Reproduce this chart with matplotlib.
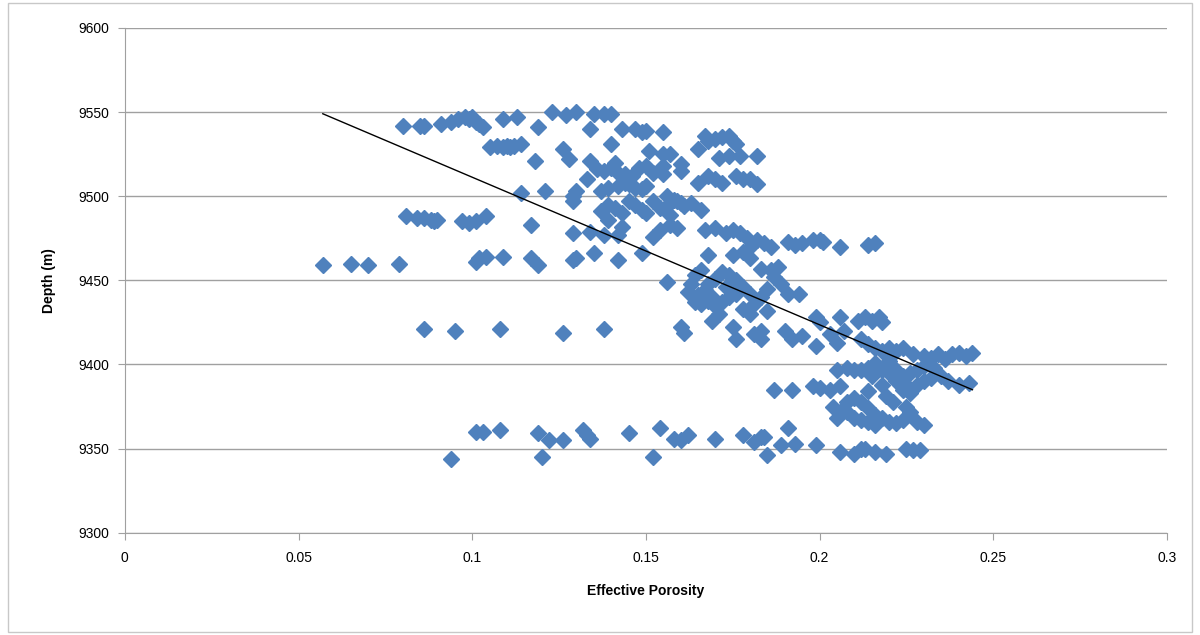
import matplotlib
matplotlib.use("Agg")
import matplotlib.pyplot as plt
from matplotlib.patches import Rectangle
import numpy as np

# Effective porosity (x) and depth (y)
porosity = [
    0.080, 0.085, 0.086, 0.091, 0.094, 0.096, 0.098, 0.099, 0.100, 0.101, 0.102, 0.103,
    0.109, 0.113, 0.119, 0.123, 0.127, 0.130, 0.134, 0.135, 0.138, 0.140,
    0.105, 0.107, 0.109, 0.110, 0.111, 0.112, 0.114, 0.118, 0.126, 0.128, 0.134, 0.140,
    0.143, 0.147, 0.149, 0.150, 0.151, 0.155, 0.155, 0.157, 0.165, 0.167, 0.168, 0.170,
    0.172, 0.174, 0.175, 0.176, 0.171, 0.174, 0.177, 0.182, 0.160,
    0.136, 0.138, 0.140, 0.141, 0.142, 0.144, 0.146, 0.148, 0.150, 0.152, 0.155, 0.155,
    0.160, 0.145, 0.150, 0.133, 0.130, 0.129, 0.137, 0.139, 0.142, 0.144, 0.147, 0.149,
    0.156, 0.158, 0.160, 0.165, 0.168, 0.170, 0.172, 0.176, 0.178, 0.180, 0.182, 0.114, 0.121,
    0.129, 0.137, 0.139, 0.141, 0.143, 0.145, 0.147, 0.149, 0.150, 0.152, 0.154, 0.156,
    0.157, 0.159, 0.161, 0.163, 0.166, 0.117, 0.129, 0.134, 0.138, 0.142, 0.143, 0.152,
    0.154, 0.157, 0.159, 0.139,
    0.081, 0.084, 0.086, 0.088, 0.089, 0.090, 0.097, 0.099, 0.101, 0.104,
    0.057, 0.065, 0.070, 0.079, 0.101, 0.102, 0.104, 0.109, 0.117, 0.119, 0.129, 0.130,
    0.135, 0.142, 0.149,
    0.167, 0.170, 0.173, 0.175, 0.177, 0.179, 0.180, 0.182, 0.184, 0.186, 0.191, 0.193,
    0.195, 0.198, 0.200, 0.201, 0.206, 0.214, 0.216, 0.168, 0.175, 0.178, 0.180, 0.183,
    0.186, 0.188, 0.187, 0.189, 0.185, 0.183, 0.180, 0.178, 0.176, 0.174, 0.172, 0.170,
    0.168, 0.166, 0.164, 0.163, 0.162, 0.156, 0.164, 0.166, 0.168, 0.170, 0.172, 0.174,
    0.176, 0.178, 0.180, 0.181, 0.175, 0.176, 0.183, 0.181, 0.183, 0.190, 0.192, 0.195,
    0.191, 0.194, 0.199, 0.200, 0.199, 0.206, 0.203, 0.205, 0.207, 0.160, 0.161, 0.169,
    0.171, 0.185, 0.165, 0.167, 0.169, 0.173,
    0.086, 0.095, 0.108, 0.126, 0.138,
    0.211, 0.213, 0.215, 0.217, 0.218, 0.212, 0.214, 0.216, 0.218, 0.220, 0.222, 0.224,
    0.227, 0.230, 0.232, 0.234, 0.236, 0.238, 0.240, 0.242, 0.244, 0.243, 0.240, 0.237,
    0.235, 0.232, 0.230, 0.228, 0.226, 0.224, 0.222, 0.220, 0.218, 0.216, 0.214, 0.212,
    0.210, 0.208, 0.205, 0.206, 0.203, 0.200, 0.198, 0.192, 0.187, 0.204, 0.206, 0.208,
    0.210, 0.212, 0.214, 0.216, 0.218, 0.220, 0.222, 0.224, 0.226, 0.228, 0.230, 0.208,
    0.210, 0.212, 0.214, 0.216, 0.219, 0.221, 0.225, 0.205, 0.215, 0.218, 0.220, 0.222,
    0.224, 0.226, 0.228, 0.230, 0.233, 0.225, 0.214,
    0.094, 0.101, 0.103, 0.108, 0.119, 0.120, 0.122, 0.126, 0.132, 0.133, 0.134, 0.145,
    0.152, 0.154, 0.158, 0.160, 0.162, 0.170, 0.178, 0.181, 0.183, 0.184, 0.185, 0.189,
    0.191, 0.193, 0.199, 0.206, 0.210, 0.212, 0.213, 0.216, 0.219, 0.225, 0.227, 0.229,
]
depth = [
    9542, 9542, 9542, 9543, 9544, 9546, 9547, 9546, 9547, 9544, 9543, 9541,
    9546, 9547, 9541, 9550, 9548, 9550, 9540, 9549, 9549, 9549,
    9529, 9530, 9529, 9530, 9529, 9530, 9531, 9521, 9528, 9522, 9521, 9531,
    9540, 9540, 9538, 9539, 9527, 9538, 9525, 9525, 9528, 9536, 9533, 9534,
    9535, 9536, 9533, 9531, 9523, 9524, 9524, 9524, 9515,
    9516, 9515, 9517, 9520, 9514, 9513, 9512, 9517, 9518, 9514, 9518, 9513,
    9519, 9507, 9506, 9510, 9503, 9500, 9503, 9505, 9506, 9508, 9505, 9504,
    9500, 9498, 9496, 9508, 9512, 9510, 9508, 9512, 9510, 9510, 9507, 9502, 9503,
    9497, 9491, 9495, 9493, 9490, 9497, 9495, 9492, 9490, 9497, 9493, 9494,
    9489, 9497, 9494, 9496, 9492, 9483, 9478, 9479, 9477, 9477, 9482, 9476,
    9480, 9483, 9481, 9486,
    9488, 9487, 9487, 9486, 9485, 9486, 9485, 9484, 9485, 9488,
    9459, 9460, 9459, 9460, 9461, 9463, 9464, 9464, 9463, 9459, 9462, 9463,
    9466, 9462, 9466,
    9480, 9481, 9478, 9480, 9478, 9475, 9470, 9474, 9472, 9470, 9473, 9471,
    9472, 9474, 9474, 9473, 9470, 9471, 9472, 9465, 9465, 9467, 9463, 9457,
    9456, 9458, 9452, 9448, 9445, 9440, 9442, 9446, 9450, 9453, 9455, 9451,
    9448, 9456, 9453, 9448, 9443, 9449, 9437, 9436, 9438, 9435, 9437, 9440,
    9442, 9433, 9430, 9436, 9422, 9415, 9415, 9418, 9420, 9420, 9415, 9417,
    9442, 9442, 9428, 9425, 9411, 9428, 9418, 9413, 9420, 9422, 9419, 9426,
    9430, 9432, 9441, 9444, 9440, 9446,
    9421, 9420, 9421, 9419, 9421,
    9426, 9428, 9426, 9428, 9425, 9415, 9412, 9410, 9408, 9410, 9408, 9410,
    9406, 9405, 9404, 9406, 9403, 9406, 9407, 9405, 9407, 9389, 9388, 9390,
    9393, 9392, 9390, 9388, 9383, 9385, 9390, 9395, 9397, 9401, 9398, 9397,
    9397, 9398, 9397, 9387, 9385, 9386, 9387, 9385, 9385, 9375, 9372, 9378,
    9380, 9378, 9374, 9370, 9368, 9366, 9365, 9367, 9372, 9366, 9364, 9372,
    9368, 9367, 9366, 9364, 9381, 9378, 9375, 9368, 9393, 9388, 9402, 9397,
    9393, 9395, 9397, 9399, 9398, 9388, 9384,
    9344, 9360, 9360, 9361, 9359, 9345, 9355, 9355, 9361, 9358, 9356, 9359,
    9345, 9362, 9356, 9355, 9358, 9356, 9358, 9354, 9357, 9357, 9346, 9352,
    9362, 9353, 9352, 9348, 9347, 9350, 9350, 9348, 9347, 9350, 9349, 9349,
]

# Linear trend line as drawn in the reference (end points)
trend_x = [0.057, 0.244]
trend_y = [9549, 9385]

x_ticks = [0, 0.05, 0.1, 0.15, 0.2, 0.25, 0.3]
x_tick_labels = ["0", "0.05", "0.1", "0.15", "0.2", "0.25", "0.3"]
y_ticks = [9300, 9350, 9400, 9450, 9500, 9550, 9600]

plt.rcParams['font.family'] = ['Liberation Sans', 'DejaVu Sans']

fig = plt.figure(figsize=(12, 6.35), dpi=100)
ax = fig.add_axes([0.104, 0.161, 0.8685, 0.795])

ax.plot(porosity, depth, linestyle='none', marker='D', markersize=8,
        markerfacecolor='#4F81BD', markeredgecolor='#4F81BD', zorder=3)
ax.plot(trend_x, trend_y, color='black', linewidth=1.0, zorder=4)

ax.set_xlim(0, 0.3)
ax.set_ylim(9300, 9600)
ax.set_xticks(x_ticks)
ax.set_xticklabels(x_tick_labels)
ax.set_yticks(y_ticks)

ax.yaxis.grid(True, color='#A0A0A0', linewidth=1.0)
ax.set_axisbelow(True)
for s in ['top', 'right']:
    ax.spines[s].set_visible(False)
ax.spines['left'].set_color('#A0A0A0')
ax.spines['bottom'].set_color('#A0A0A0')
ax.tick_params(axis='both', colors='#A0A0A0', labelcolor='black', labelsize=10,
               length=5, direction='out')
ax.tick_params(axis='x', pad=8)
ax.tick_params(axis='y', pad=6)

ax.set_xlabel('Effective Porosity', fontsize=10, fontweight='bold', labelpad=14)
ax.set_ylabel('Depth (m)', fontsize=10, fontweight='bold', labelpad=16)

fig.patches.append(Rectangle((0.007, 0.004), 0.986, 0.992, transform=fig.transFigure,
                             fill=False, edgecolor='#C8C8C8', linewidth=1.0))

fig.savefig('out.png', dpi=100)
